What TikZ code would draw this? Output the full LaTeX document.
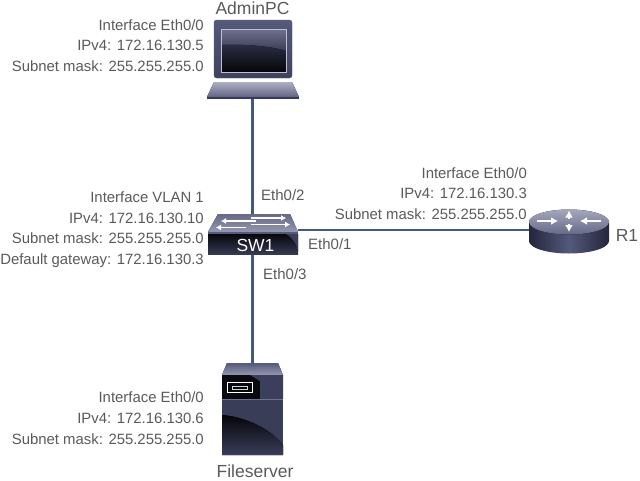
\documentclass[tikz,border=0pt]{standalone}
\usepackage{fontspec}
\setmainfont{Liberation Sans}
\definecolor{linkblue}{HTML}{44587A}
\definecolor{labelgrey}{HTML}{5A5A5A}
\definecolor{metaldark}{HTML}{23263C}
\definecolor{metalmid}{HTML}{55597A}
\definecolor{metallight}{HTML}{A4A7BC}
\tikzset{
  devicebox/.style={inner sep=0pt,outer sep=0pt},
  addrlabel/.style={anchor=east,align=right,inner sep=0pt,text=labelgrey,font=\fontsize{14.9}{20.7}\selectfont},
  portlabel/.style={anchor=west,inner sep=0pt,text=labelgrey,font=\fontsize{15}{18}\selectfont},
  namelabel/.style={inner sep=0pt,text=labelgrey,font=\fontsize{17.5}{20}\selectfont},
  link/.style={draw=linkblue,line width=3pt},
  flowarrow/.style={draw=white,line width=1.4pt,-{Latex[length=5pt,width=6pt]}},
}
\usetikzlibrary{arrows.meta}
\begin{document}
\begin{tikzpicture}[x=1pt,y=-1pt]
  \useasboundingbox (0,0) rectangle (640,480);
  % DEVICES (outlines only, used to hang the links on)
  \node[devicebox,minimum width=92pt,minimum height=78pt] (pc) at (252.3,59) {};
  \node[devicebox,minimum width=90pt,minimum height=41pt] (sw1) at (252.3,234.5) {};
  \node[devicebox,minimum width=80pt,minimum height=43pt] (r1) at (569,231.5) {};
  \node[devicebox,minimum width=61pt,minimum height=92pt] (fs) at (252.3,409) {};
  \coordinate (sw1port) at (298,230);
  \coordinate (r1port) at (530,230);

  % LINKS
  \draw[link] (pc.south) -- (sw1.north);
  \draw[link] (sw1.south) -- (fs.north);
  \draw[link,line width=2.6pt] (sw1port) -- (r1port);

  % AdminPC
  \draw[draw=metalmid,top color=metalmid,bottom color=metaldark!45!metalmid,rounded corners=2.5pt]
    (214,20) rectangle (292,78);
  \fill[top color=metallight!90!white,bottom color=metalmid!85!metallight] (214,82) -- (292,82) -- (299,97) -- (207,97) -- cycle;
  \fill[metaldark!60!metalmid] (207,97) rectangle (299,98.5);
  \fill[top color=metalmid!85!white,bottom color=metalmid!70!black] (221,29) rectangle (286,50);
  \fill[top color=metaldark!85!metalmid,bottom color=black!85!metaldark] (221,72) -- (221,45) .. controls (245,44) and (270,46) .. (286,51) -- (286,72) -- cycle;
  \draw[draw=metallight!70!white,line width=1pt] (221,29) rectangle (286,72);

  % SW1
  \fill[top color=metalmid!90!white,bottom color=metallight!80!metalmid] (218,214) -- (290,214) -- (298,232) -- (208,232) -- cycle;
  \fill[metalmid] (208,232) rectangle (298,234);
  \fill[top color=black!80!metaldark,bottom color=metaldark!60!metalmid] (208,234) rectangle (298,254.5);
  \fill[metaldark!50!metalmid] (286,234) .. controls (293,238) and (297,244) .. (298,252) -- (298,234) -- cycle;
  \draw[flowarrow] (251,218) -- (286,218);
  \draw[flowarrow] (256,221) -- (221,221);
  \draw[flowarrow] (251,224.5) -- (290,224.5);
  \draw[flowarrow] (246,227.5) -- (216,227.5);
  \node[namelabel,text=white] (sw1name) at (255.5,245) {SW1};

  % R1
  \shade[left color=metaldark,right color=metaldark,middle color=metalmid]
    (529,222) -- (529,241) arc[start angle=180,end angle=360,x radius=40pt,y radius=12.5pt] -- (609,222) -- cycle;
  \fill[top color=metallight,bottom color=metalmid!90!white] (569,222) ellipse[x radius=40pt,y radius=12.5pt];
  \draw[flowarrow,line width=1.6pt,-{Latex[length=7pt,width=8pt]}] (537,221) -- (558,221);
  \draw[flowarrow,line width=1.6pt,-{Latex[length=7pt,width=8pt]}] (601,221) -- (580,221);
  \draw[flowarrow,line width=1.6pt,-{Latex[length=7pt,width=8pt]}] (569,218.5) -- (569,210.5);
  \draw[flowarrow,line width=1.6pt,-{Latex[length=7pt,width=8pt]}] (569,223.5) -- (569,232);

  % Fileserver
  \fill[top color=metalmid,bottom color=metallight!80!metalmid] (227,363) -- (278,363) -- (283,375) -- (222,375) -- cycle;
  \fill[metaldark!50!metalmid] (222,375) rectangle (283,399);
  \fill[black!75!metaldark] (222,375) rectangle (260,399);
  \fill[metaldark!50!metalmid] (250,375) .. controls (262,382) and (274,390) .. (283,399) -- (283,375) -- cycle;
  \fill[metalmid!70!metallight] (222,399) rectangle (283,400);
  \fill[metaldark!55!metalmid] (222,400) rectangle (283,455);
  \fill[top color=black!85!metaldark,bottom color=metaldark!55!metalmid] (222,455) -- (222,415) .. controls (245,417) and (270,428) .. (283,445) -- (283,455) -- cycle;
  \draw[draw=white,line width=1pt,fill=black!80!metaldark] (227.5,382.5) rectangle (252.5,392.5);
  \draw[draw=white!75!metalmid,line width=0.8pt] (232,386) rectangle (247,389);

  % ADDRESSES
  \node[addrlabel] (pcaddr) at (204,45.5) {Interface Eth0/0\\IPv4: 172.16.130.5\\Subnet mask: 255.255.255.0};
  \node[addrlabel] (swaddr) at (204,229.5) {Interface VLAN 1\\IPv4: 172.16.130.10\\Subnet mask: 255.255.255.0\\Default gateway: 172.16.130.3};
  \node[addrlabel] (raddr) at (527,193.5) {Interface Eth0/0\\IPv4: 172.16.130.3\\Subnet mask: 255.255.255.0};
  \node[addrlabel] (fsaddr) at (204,418) {Interface Eth0/0\\IPv4: 172.16.130.6\\Subnet mask: 255.255.255.0};

  % PORTS
  \node[portlabel] (eth2) at (261,195) {Eth0/2};
  \node[portlabel] (eth1) at (308,244) {Eth0/1};
  \node[portlabel] (eth3) at (263,274) {Eth0/3};

  % NAMES
  \node[namelabel] (pcname) at (252.5,8) {AdminPC};
  \node[namelabel] (rname) at (627,235) {R1};
  \node[namelabel] (fsname) at (255,471) {Fileserver};
\end{tikzpicture}
\end{document}
